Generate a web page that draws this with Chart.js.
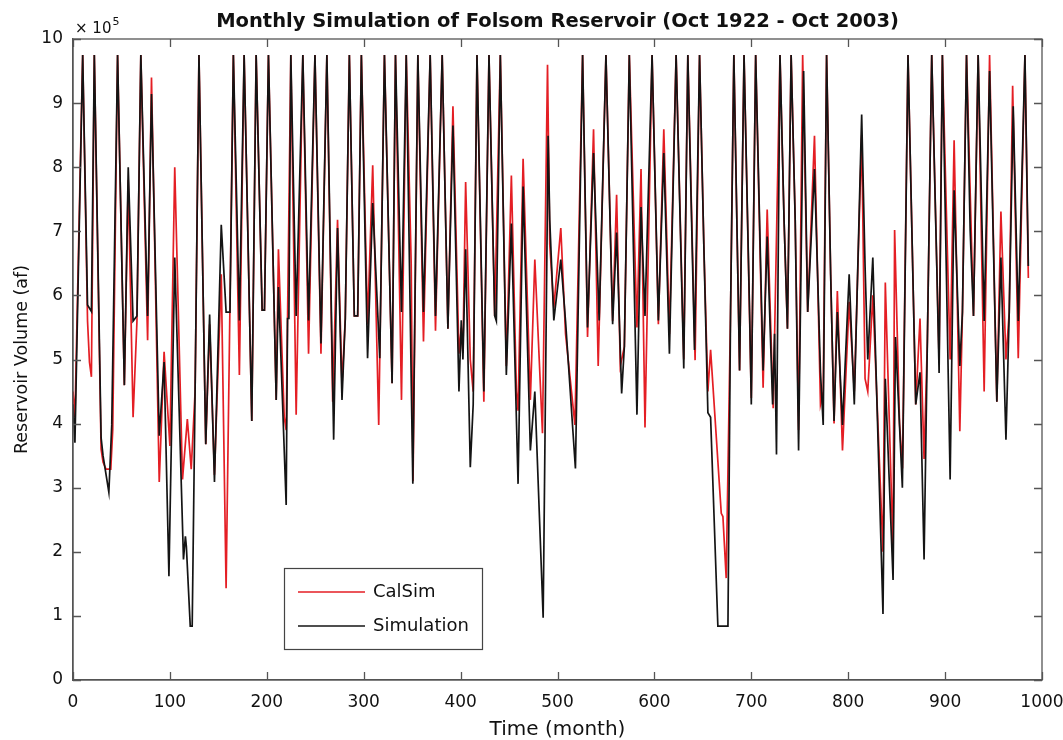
<!DOCTYPE html>
<html>
<head>
<meta charset="utf-8">
<title>Monthly Simulation of Folsom Reservoir</title>
<script src="https://cdn.jsdelivr.net/npm/chart.js@4.4.1/dist/chart.umd.min.js"></script>
<style>
  html, body { margin: 0; padding: 0; background: #fff; }
  #wrap { width: 1063px; height: 740px; position: relative; }
</style>
</head>
<body>
<div id="wrap"><canvas id="folsomChart"></canvas></div>
<script>
// values, volume in units of 10^5 af
const simMonth = [
  0, 2, 10, 15, 19, 22, 29, 31, 37, 40, 46, 53, 57, 62, 66, 70, 77, 81, 89, 94,
  99, 105, 114, 116, 117, 121, 123, 126, 130, 137, 141, 146, 153, 158, 162, 165.5, 171.7, 176.6, 184.5, 189,
  195.2, 197.6, 201.7, 209.7, 212, 220, 221.4, 222.8, 224.8, 230.3, 237.2, 243.1, 249.7, 255.9, 262, 269, 273, 277.6, 281, 285.2,
  290.3, 293.8, 297.6, 304, 309.3, 316.6, 321.4, 329.3, 332.8, 339, 343.9, 350.7, 355.9, 361.7, 368.6, 374.1, 381, 386.9, 392.1, 398.3,
  400.7, 402.4, 405.2, 410, 413, 416.9, 424, 429.3, 435.2, 436.9, 441, 447.2, 452.4, 459.3, 464.5, 472, 476.6, 485.2, 490.3, 492,
  496.2, 503.4, 508.3, 518.5, 525.9, 531, 537.2, 543, 550, 556.9, 561, 566.2, 569, 574.1, 582, 586.2, 590.3, 597.6, 604.1, 609.7,
  615.5, 622.4, 630.3, 634.5, 641.4, 646.6, 651, 655.2, 658, 665.5, 675.9, 678.6, 682, 687.9, 692.5, 698.3, 700, 704.5, 712.2, 716.4,
  722, 724, 726, 729.6, 733.8, 737.3, 741.1, 745.3, 748.8, 754, 758.2, 765.2, 771.4, 774.2, 777.7, 781.9, 785.4, 788.8, 794.1, 801,
  806.3, 813.9, 817.4, 820.2, 825.4, 835.9, 838.3, 846.3, 848.8, 855.9, 861.7, 869.7, 874.1, 878.3, 881.7, 886.2, 891.4, 893.8, 897.2, 905.2,
  909.3, 915.2, 917.9, 922.1, 925.9, 929.3, 934.1, 940.3, 945.9, 953.4, 957.6, 962.8, 966.2, 970.3, 975.5, 982.4, 985.9
];
const simVolume = [
  4.3, 3.7, 9.75, 5.85, 5.75, 9.75, 3.78, 3.5, 2.93, 3.98, 9.75, 4.6, 8.0, 5.6, 5.68, 9.75, 5.68, 9.14, 3.81, 4.96,
  1.62, 6.59, 1.88, 2.24, 2.08, 0.84, 0.84, 4.5, 9.75, 3.68, 5.7, 3.09, 7.1, 5.74, 5.74, 9.75, 5.61, 9.75, 4.04, 9.75,
  5.77, 5.77, 9.75, 4.37, 6.13, 2.73, 5.64, 5.64, 9.75, 5.68, 9.75, 5.61, 9.75, 5.25, 9.75, 3.75, 7.05, 4.37, 5.64, 9.75,
  5.68, 5.68, 9.75, 5.02, 7.44, 5.02, 9.75, 4.63, 9.75, 5.74, 9.75, 3.06, 9.75, 5.74, 9.75, 5.68, 9.75, 5.48, 8.65, 4.5,
  5.61, 5.0, 6.72, 3.32, 4.3, 9.75, 4.5, 9.75, 5.68, 5.6, 9.75, 4.76, 7.12, 3.06, 7.7, 3.58, 4.5, 0.97, 8.49, 7.18,
  5.61, 6.56, 5.6, 3.3, 9.75, 5.5, 8.22, 5.61, 9.75, 5.55, 6.98, 4.47, 5.2, 9.75, 4.14, 7.38, 5.68, 9.75, 5.61, 8.22,
  5.09, 9.75, 4.86, 9.75, 5.15, 9.75, 6.79, 4.17, 4.1, 0.84, 0.84, 5.77, 9.75, 4.83, 9.75, 5.7, 4.3, 9.75, 4.83, 6.92,
  4.3, 5.4, 3.52, 9.75, 7.18, 5.48, 9.75, 7.18, 3.58, 9.5, 5.74, 7.97, 4.8, 3.98, 9.75, 6.33, 4.04, 5.74, 3.98, 6.33,
  4.3, 8.82, 6.46, 5.0, 6.59, 1.03, 4.7, 1.56, 5.35, 3.0, 9.75, 4.3, 4.8, 1.88, 5.28, 9.75, 6.46, 4.79, 9.75, 3.13,
  7.64, 4.9, 5.74, 9.75, 7.0, 5.68, 9.75, 5.6, 9.5, 4.34, 6.59, 3.75, 5.74, 8.95, 5.6, 9.75, 6.46
];

const calMonth = [
  0, 2, 10, 15, 17, 19, 22, 29, 31, 34, 39, 41, 46, 53, 57, 62, 66, 70, 77, 81,
  89, 94, 100, 105, 113, 118, 122, 126, 130, 137, 141, 146, 153, 158, 165.5, 171.7, 176.6, 184.5, 189, 195.2,
  197.6, 201.7, 209.7, 212, 218, 220, 221.4, 224.8, 230.3, 237.2, 243.1, 249.7, 255.9, 262, 268, 273, 277.6, 281, 285.2, 290.3,
  293.8, 297.6, 304, 309.3, 315.5, 321.4, 329.3, 332.8, 339, 343.9, 349, 350.9, 355.9, 361.7, 368.6, 374.1, 381, 386.9, 392.1, 398.3,
  400.7, 402.4, 405.2, 410, 413, 416.9, 424, 429.3, 435.2, 441, 447.2, 452.4, 457.6, 459.3, 464.5, 472, 476.6, 484.5, 489.7, 492,
  496.2, 503.4, 508.3, 518, 525.9, 531, 537.2, 542, 550, 556.9, 561, 564.8, 569, 574.1, 582, 586.2, 590.3, 597.6, 604.1, 609.7,
  615.5, 622.4, 630.3, 634.5, 642, 646.6, 651, 655.2, 658, 669, 670.7, 674.1, 678.6, 682, 687.9, 692.5, 700, 704.5, 712.2, 716.4,
  722.6, 729.6, 733.8, 737.3, 741.1, 745.3, 748.8, 753, 758.2, 765.2, 771.4, 774.2, 777.7, 781.9, 785.4, 788.8, 794.1, 801, 806.3, 813.9,
  817.4, 820.2, 825.4, 835.9, 838.3, 846.3, 847.9, 853, 856, 861.7, 869.7, 874.1, 878.3, 881.7, 886.2, 893.8, 897.2, 905.2, 909.3, 915.2,
  917.9, 922.1, 929.3, 934.1, 940.3, 945.9, 953.4, 957.6, 962.8, 966.2, 969.7, 975.5, 982.4, 985.9
];
const calVolume = [
  4.5, 4.1, 9.75, 5.6, 4.96, 4.73, 9.75, 3.6, 3.4, 3.29, 3.29, 3.9, 9.75, 4.6, 7.8, 4.1, 5.6, 9.75, 5.3, 9.4,
  3.09, 5.12, 3.65, 8.0, 3.13, 4.07, 3.29, 4.5, 9.75, 3.68, 5.55, 3.2, 6.33, 1.43, 9.75, 4.76, 9.75, 4.04, 9.75, 5.77,
  5.77, 9.75, 4.37, 6.72, 4.1, 3.9, 5.64, 9.75, 4.14, 9.75, 5.09, 9.75, 5.09, 9.75, 4.34, 7.18, 4.6, 5.64, 9.75, 5.68,
  5.68, 9.75, 5.55, 8.03, 3.98, 9.75, 4.63, 9.75, 4.37, 9.75, 6.5, 3.1, 9.75, 5.28, 9.75, 5.45, 9.75, 5.48, 8.95, 5.09,
  5.5, 5.1, 7.77, 5.0, 4.5, 9.75, 4.34, 9.75, 5.68, 9.75, 4.9, 7.87, 4.5, 4.2, 8.13, 4.37, 6.56, 3.85, 9.6, 6.8,
  5.81, 7.05, 5.4, 3.98, 9.75, 5.35, 8.59, 4.9, 9.75, 5.6, 7.57, 4.9, 5.2, 9.75, 5.5, 7.97, 3.94, 9.75, 5.55, 8.59,
  5.4, 9.75, 5.0, 9.75, 4.99, 9.75, 6.79, 4.5, 5.15, 2.6, 2.55, 1.59, 5.77, 9.75, 4.83, 9.75, 4.4, 9.75, 4.56, 7.34,
  4.24, 9.75, 7.18, 5.48, 9.75, 7.18, 3.9, 9.75, 5.74, 8.49, 4.3, 4.5, 9.75, 6.33, 4.0, 6.07, 3.58, 5.9, 4.5, 8.5,
  4.7, 4.5, 6.0, 2.0, 6.2, 2.0, 7.02, 4.0, 3.3, 9.75, 4.3, 5.64, 3.45, 5.28, 9.75, 5.0, 9.75, 5.0, 8.42, 3.88,
  5.74, 9.75, 5.68, 9.75, 4.5, 9.75, 4.34, 7.31, 5.0, 5.74, 9.27, 5.02, 9.75, 6.27
];

const xTicks = [0, 100, 200, 300, 400, 500, 600, 700, 800, 900, 1000];
const yTicks = [0, 1, 2, 3, 4, 5, 6, 7, 8, 9, 10];
const seriesNames = ["CalSim", "Simulation"];

const FONT = "'DejaVu Sans', 'Liberation Sans', Arial, sans-serif";
const AXIS_COLOR = "#555";
const RED = "rgb(228, 30, 36)";
const BLACK = "rgb(20, 20, 20)";

function toPoints(xs, ys) {
  return xs.map((x, i) => ({ x, y: ys[i] }));
}

// MATLAB-like frame: top/right border, inward ticks, exponent, boxed legend
const matlabFrame = {
  id: "matlabFrame",
  afterDraw(chart) {
    const { ctx, chartArea: a, scales } = chart;
    const xs = scales.x, ys = scales.y;
    ctx.save();
    ctx.strokeStyle = AXIS_COLOR;
    ctx.lineWidth = 1.3;
    ctx.strokeRect(a.left, a.top, a.right - a.left, a.bottom - a.top);

    ctx.beginPath();
    for (const t of xTicks) {
      const px = Math.round(xs.getPixelForValue(t)) + 0.5;
      ctx.moveTo(px, a.bottom); ctx.lineTo(px, a.bottom - 8);
      ctx.moveTo(px, a.top); ctx.lineTo(px, a.top + 8);
    }
    for (const t of yTicks) {
      const py = Math.round(ys.getPixelForValue(t)) + 0.5;
      ctx.moveTo(a.left, py); ctx.lineTo(a.left + 8, py);
      ctx.moveTo(a.right, py); ctx.lineTo(a.right - 8, py);
    }
    ctx.stroke();

    // axis multiplier
    ctx.fillStyle = "#111";
    ctx.textBaseline = "alphabetic";
    ctx.textAlign = "left";
    ctx.font = "15px " + FONT;
    ctx.fillText("\u00d7 10", a.left + 2, a.top - 6);
    const w = ctx.measureText("\u00d7 10").width;
    ctx.font = "11px " + FONT;
    ctx.fillText("5", a.left + 3 + w, a.top - 14);

    // legend box
    const lx = 284, ly = 568, lw = 198, lh = 81;
    ctx.fillStyle = "#fff";
    ctx.fillRect(lx, ly, lw, lh);
    ctx.strokeStyle = "#444";
    ctx.lineWidth = 1.2;
    ctx.strokeRect(lx + 0.5, ly + 0.5, lw, lh);
    const rows = [
      { label: seriesNames[0], color: RED, y: ly + 24 },
      { label: seriesNames[1], color: BLACK, y: ly + 58 }
    ];
    ctx.font = "18px " + FONT;
    ctx.textBaseline = "middle";
    for (const r of rows) {
      ctx.strokeStyle = r.color;
      ctx.lineWidth = 1.4;
      ctx.beginPath();
      ctx.moveTo(lx + 14, r.y); ctx.lineTo(lx + 81, r.y);
      ctx.stroke();
      ctx.fillStyle = "#111";
      ctx.fillText(r.label, lx + 89, r.y);
    }
    ctx.restore();
  }
};

new Chart(document.getElementById("folsomChart"), {
  type: "line",
  data: {
    datasets: [
      {
        label: seriesNames[0],
        data: toPoints(calMonth, calVolume),
        borderColor: RED,
        borderWidth: 1.7,
        pointRadius: 0,
        tension: 0,
        order: 1
      },
      {
        label: seriesNames[1],
        data: toPoints(simMonth, simVolume),
        borderColor: BLACK,
        borderWidth: 1.7,
        pointRadius: 0,
        tension: 0,
        order: 0
      }
    ]
  },
  options: {
    responsive: true,
    maintainAspectRatio: false,
    animation: false,
    layout: { padding: { left: 0, right: 21, top: 0, bottom: 0 } },
    plugins: {
      legend: { display: false },
      tooltip: { enabled: false },
      title: {
        display: true,
        text: "Monthly Simulation of Folsom Reservoir (Oct 1922 - Oct 2003)",
        color: "#111",
        font: { family: FONT, size: 19.5, weight: "bold", lineHeight: 1.2 },
        padding: { top: 10, bottom: 5.6 },
        fullSize: false
      }
    },
    scales: {
      x: {
        type: "linear",
        min: 0,
        max: 1000,
        afterFit: (s) => { s.height = 60; s.paddingLeft = 0; s.paddingRight = 0; },
        afterBuildTicks: (s) => { s.ticks = xTicks.map((v) => ({ value: v })); },
        grid: { display: false, drawTicks: false },
        border: { display: true, color: AXIS_COLOR, width: 1.3 },
        ticks: {
          color: "#111",
          font: { family: FONT, size: 17 },
          padding: 12,
          maxRotation: 0,
          callback: (v) => String(v)
        },
        title: {
          display: true,
          text: "Time (month)",
          color: "#111",
          font: { family: FONT, size: 20, lineHeight: 1.2 },
          padding: { top: 0, bottom: -2 }
        }
      },
      y: {
        min: 0,
        max: 10,
        afterFit: (s) => { s.width = 73; s.paddingTop = 0; s.paddingBottom = 0; },
        afterBuildTicks: (s) => { s.ticks = yTicks.map((v) => ({ value: v })); },
        grid: { display: false, drawTicks: false },
        border: { display: true, color: AXIS_COLOR, width: 1.3 },
        ticks: { color: "#111", font: { family: FONT, size: 17 }, padding: 10, callback: (v) => String(v) },
        title: {
          display: true,
          text: "Reservoir Volume (af)",
          color: "#111",
          font: { family: FONT, size: 17.5, lineHeight: 1.2 },
          padding: { top: 12, bottom: 0 }
        }
      }
    }
  },
  plugins: [matlabFrame]
});
</script>
</body>
</html>
